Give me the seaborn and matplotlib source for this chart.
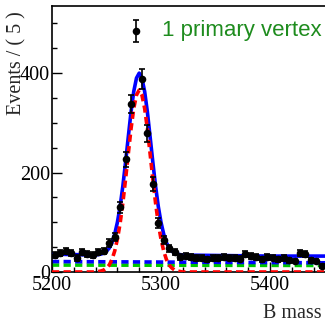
import numpy as np
import pandas as pd
import matplotlib
matplotlib.use("Agg")
import matplotlib.pyplot as plt
import seaborn as sns

# ---- data ----
bin_centers = [5202.5 + 5 * i for i in range(50)]
counts = [35, 38, 42, 38, 28, 40, 36, 34, 40, 42,
          58, 70, 130, 227, 338, 484, 388, 279, 177, 98,
          64, 48, 40, 30, 32, 30, 28, 28, 26, 28,
          28, 30, 29, 28, 27, 36, 32, 30, 26, 30,
          29, 26, 28, 24, 22, 38, 36, 24, 22, 12]

# fitted curves
sig_x = [5200, 5240, 5242.5, 5245, 5247.5, 5250, 5252.5, 5255, 5257.5, 5260, 5262.5,
         5265, 5267.5, 5270, 5272.5, 5275, 5277.5, 5280, 5282.5, 5285, 5287.5,
         5290, 5292.5, 5295, 5297.5, 5300, 5302.5, 5305, 5307.5, 5310, 5312.5,
         5315, 5317.5, 5320, 5500]
sig_y = [0, 0, 1, 2, 4, 8, 14, 25, 42, 66, 98,
         139, 187, 238, 288, 329, 356, 366, 356, 329, 288,
         238, 187, 139, 98, 66, 42, 25, 14, 8, 4,
         2, 1, 0, 0]
tot_x = [5200, 5220] + sig_x[1:-1] + [5360, 5400, 5450, 5500]
tot_y = [36, 35, 34, 35, 36, 38, 42, 48, 59, 76, 100, 132,
         173, 221, 272, 322, 363, 390, 400, 390, 363, 322,
         272, 221, 173, 132, 100, 76, 59, 48, 42, 38,
         36, 35, 34, 33, 32, 32, 31]
bkg1_x = [5200, 5500]
bkg1_y = [21, 18]
bkg2_x = [5200, 5500]
bkg2_y = [14, 13]

x_ticks = [5200, 5300, 5400]
y_ticks = [0, 200, 400]

sns.set_style("ticks")
plt.rcParams["font.family"] = ["Liberation Serif", "DejaVu Serif"]

fig = plt.figure(figsize=(3.25, 3.22), dpi=100)
ax = fig.add_axes([52 / 325, 50 / 322, 327 / 325, 266 / 322])

sns.lineplot(x=bkg2_x, y=bkg2_y, ax=ax, color="#00c800", lw=2.6,
             linestyle=(0, (2.0, 1.2)), zorder=2)
sns.lineplot(x=bkg1_x, y=bkg1_y, ax=ax, color="#0000ff", lw=2.6,
             linestyle=(0, (2.0, 1.2)), zorder=2)
sns.lineplot(x=tot_x, y=tot_y, ax=ax, color="#0000ff", lw=2.6, zorder=3, sort=False)
sns.lineplot(x=sig_x, y=sig_y, ax=ax, color="#ff0000", lw=2.6,
             linestyle=(0, (2.0, 1.2)), zorder=4, sort=False)

errs = np.sqrt(np.array(counts, dtype=float))
ax.errorbar(bin_centers, counts, yerr=errs, fmt="none", ecolor="black",
            elinewidth=1.2, capsize=2.5, capthick=1.2, zorder=5)
sns.scatterplot(x=bin_centers, y=counts, ax=ax, color="black", s=30,
                edgecolor="black", linewidth=0, zorder=6)

ax.set_xlim(5200, 5500)
ax.set_ylim(0, 535)
ax.set_xticks(x_ticks)
ax.set_yticks(y_ticks)
ax.set_xticks(np.arange(5200, 5501, 20), minor=True)
ax.set_yticks(np.arange(0, 535, 50), minor=True)
ax.tick_params(which="both", direction="in", top=False, right=False,
               width=1.0, colors="black", labelsize=14.5)
ax.tick_params(which="major", length=7)
ax.tick_params(which="minor", length=3.6)
ax.tick_params(axis="y", pad=1.5)
ax.tick_params(axis="x", pad=3)
for s in ["left", "bottom", "top", "right"]:
    ax.spines[s].set_visible(True)
    ax.spines[s].set_linewidth(1.2)
    ax.spines[s].set_color("black")
ax.set_xlabel("")
ax.set_ylabel("")

fig.text(17 / 325, 1 - 63 / 322, "Events / ( 5 )", rotation=90,
         ha="center", va="center", fontsize=14.5)
fig.text(322 / 325, 1 - 313 / 322, "B mass", ha="right", va="center",
         fontsize=14.5)
fig.text(162 / 325, 1 - 36 / 322, "1 primary vertex", ha="left",
         va="baseline", fontsize=16, color="#1e8c1e",
         family=["Liberation Sans", "DejaVu Sans"])

fig.savefig("out.png", dpi=100)
